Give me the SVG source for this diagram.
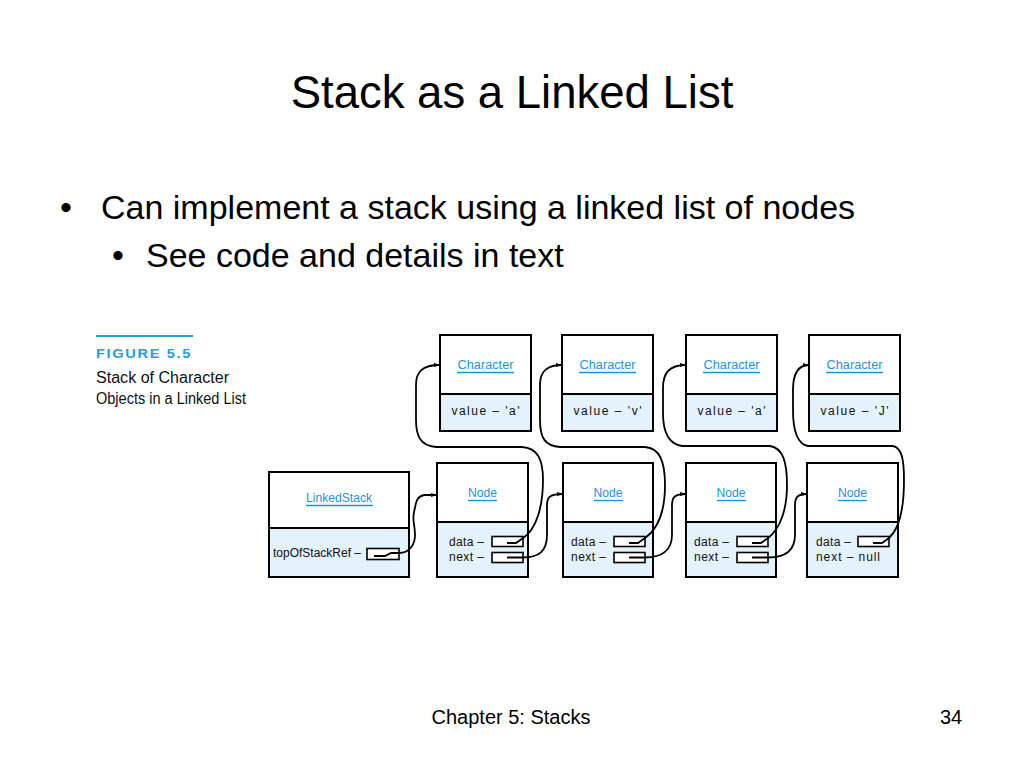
<svg xmlns="http://www.w3.org/2000/svg" width="1024" height="768" viewBox="0 0 1024 768">
<style>
.title{font-family:"Liberation Sans",Arial,sans-serif;font-size:45.5px;fill:#000}
.body{font-family:"Liberation Sans",Arial,sans-serif;font-size:34px;fill:#000}
.foot{font-family:"Liberation Sans",Arial,sans-serif;font-size:20px;fill:#000}
.cap{font-family:"Liberation Sans",Arial,sans-serif;font-size:16px;fill:#111}
.fig{font-family:"Liberation Sans",Arial,sans-serif;font-size:13.5px;font-weight:bold;fill:#2b9bd8;letter-spacing:1.5px}
.box{fill:#fff;stroke:#000;stroke-width:2}
.low{fill:#e4f2fb;stroke:#000;stroke-width:2}
.ptr{fill:#fff;stroke:#000;stroke-width:1.6}
.lbl{font-family:"Liberation Sans",Arial,sans-serif;font-size:12.5px;fill:#1e93d4;text-anchor:middle}
.ul{stroke:#1e93d4;stroke-width:1.4}
.t{font-family:"Liberation Sans",Arial,sans-serif;font-size:12px;fill:#111}
.con{fill:none;stroke:#000;stroke-width:1.8}
</style>
<defs>
<marker id="ah" markerWidth="7" markerHeight="6" refX="6" refY="3" orient="auto" markerUnits="userSpaceOnUse">
<path d="M0,1 L6,3 L0,5 z" fill="#000"/>
</marker>
</defs>
<rect width="1024" height="768" fill="#fff"/>

<text class="title" x="512" y="108" text-anchor="middle">Stack as a Linked List</text>
<text class="body" x="60" y="219">•</text>
<text class="body" x="101" y="219">Can implement a stack using a linked list of nodes</text>
<text class="body" x="112" y="267" font-size="28">•</text>
<text class="body" x="146" y="267">See code and details in text</text>
<text class="foot" x="511" y="724" text-anchor="middle">Chapter 5: Stacks</text>
<text class="foot" x="940" y="724">34</text>

<g id="caption">
<line x1="96" y1="336" x2="193" y2="336" stroke="#2b9bd8" stroke-width="2"/>
<text class="fig" x="96" y="358" textLength="96" lengthAdjust="spacingAndGlyphs">FIGURE 5.5</text>
<text class="cap" x="96" y="383" textLength="133" lengthAdjust="spacingAndGlyphs">Stack of Character</text>
<text class="cap" x="96" y="404" textLength="150" lengthAdjust="spacingAndGlyphs">Objects in a Linked List</text>
</g>

<g id="char1">
<rect class="box" x="440" y="335" width="91" height="59"/>
<rect class="low" x="440" y="394" width="91" height="37"/>
<text class="lbl" x="485.5" y="369" textLength="56" lengthAdjust="spacingAndGlyphs">Character</text><line class="ul" x1="457" y1="372.5" x2="514" y2="372.5"/>
<text class="t" x="485.5" y="415" text-anchor="middle" textLength="68" lengthAdjust="spacing">value – 'a'</text>
</g>
<g id="char2">
<rect class="box" x="562" y="335" width="91" height="59"/>
<rect class="low" x="562" y="394" width="91" height="37"/>
<text class="lbl" x="607.5" y="369" textLength="56" lengthAdjust="spacingAndGlyphs">Character</text><line class="ul" x1="579" y1="372.5" x2="636" y2="372.5"/>
<text class="t" x="607.5" y="415" text-anchor="middle" textLength="68" lengthAdjust="spacing">value – 'v'</text>
</g>
<g id="char3">
<rect class="box" x="686" y="335" width="91" height="59"/>
<rect class="low" x="686" y="394" width="91" height="37"/>
<text class="lbl" x="731.5" y="369" textLength="56" lengthAdjust="spacingAndGlyphs">Character</text><line class="ul" x1="703" y1="372.5" x2="760" y2="372.5"/>
<text class="t" x="731.5" y="415" text-anchor="middle" textLength="68" lengthAdjust="spacing">value – 'a'</text>
</g>
<g id="char4">
<rect class="box" x="809" y="335" width="91" height="59"/>
<rect class="low" x="809" y="394" width="91" height="37"/>
<text class="lbl" x="854.5" y="369" textLength="56" lengthAdjust="spacingAndGlyphs">Character</text><line class="ul" x1="826" y1="372.5" x2="883" y2="372.5"/>
<text class="t" x="854.5" y="415" text-anchor="middle" textLength="68" lengthAdjust="spacing">value – 'J'</text>
</g>

<g id="linkedstack">
<rect class="box" x="269" y="472" width="140" height="56"/>
<rect class="low" x="269" y="528" width="140" height="49"/>
<text class="lbl" x="339" y="502" textLength="66" lengthAdjust="spacingAndGlyphs">LinkedStack</text><line class="ul" x1="306" y1="505.5" x2="373" y2="505.5"/>
<text class="t" x="273" y="557" textLength="88" lengthAdjust="spacingAndGlyphs">topOfStackRef –</text>
<rect class="ptr" x="367" y="548.5" width="32" height="11"/>
</g>

<g id="node1">
<rect class="box" x="437" y="463" width="91" height="59"/>
<rect class="low" x="437" y="522" width="91" height="55"/>
<text class="lbl" x="482.5" y="497" textLength="29" lengthAdjust="spacingAndGlyphs">Node</text><line class="ul" x1="468" y1="500.5" x2="497" y2="500.5"/>
<text class="t" x="449" y="546" textLength="35" lengthAdjust="spacing">data –</text>
<text class="t" x="449" y="561" textLength="35" lengthAdjust="spacing">next –</text>
<rect class="ptr" x="492" y="536.5" width="31" height="10"/>
<rect class="ptr" x="492" y="552.5" width="31" height="10"/>
</g>
<g id="node2">
<rect class="box" x="563" y="463" width="90" height="59"/>
<rect class="low" x="563" y="522" width="90" height="55"/>
<text class="lbl" x="608" y="497" textLength="29" lengthAdjust="spacingAndGlyphs">Node</text><line class="ul" x1="594" y1="500.5" x2="623" y2="500.5"/>
<text class="t" x="571" y="546" textLength="35" lengthAdjust="spacing">data –</text>
<text class="t" x="571" y="561" textLength="35" lengthAdjust="spacing">next –</text>
<rect class="ptr" x="614" y="536.5" width="31" height="10"/>
<rect class="ptr" x="614" y="552.5" width="31" height="10"/>
</g>
<g id="node3">
<rect class="box" x="686" y="463" width="90" height="59"/>
<rect class="low" x="686" y="522" width="90" height="55"/>
<text class="lbl" x="731" y="497" textLength="29" lengthAdjust="spacingAndGlyphs">Node</text><line class="ul" x1="717" y1="500.5" x2="746" y2="500.5"/>
<text class="t" x="694" y="546" textLength="35" lengthAdjust="spacing">data –</text>
<text class="t" x="694" y="561" textLength="35" lengthAdjust="spacing">next –</text>
<rect class="ptr" x="737" y="536.5" width="31" height="10"/>
<rect class="ptr" x="737" y="552.5" width="31" height="10"/>
</g>
<g id="node4">
<rect class="box" x="807" y="463" width="91" height="59"/>
<rect class="low" x="807" y="522" width="91" height="55"/>
<text class="lbl" x="852.5" y="497" textLength="29" lengthAdjust="spacingAndGlyphs">Node</text><line class="ul" x1="838" y1="500.5" x2="867" y2="500.5"/>
<text class="t" x="816" y="546" textLength="35" lengthAdjust="spacing">data –</text>
<text class="t" x="816" y="561" textLength="64" lengthAdjust="spacing">next – null</text>
<rect class="ptr" x="858" y="536.5" width="31" height="10"/>
</g>

<g id="connectors" class="con">
<path class="con" marker-end="url(#ah)" d="M374,556 L385,556 L391,553 L399,553 C409,553 415,545 415,535 C415,525 412,520 414,512 C416,505 415,497 424,495 L437,495"/>
<path class="con" marker-end="url(#ah)" d="M507,543 L516,543 L523,538 C537,529 543,505 543,480 C543,460 538,448 522,447 L436,447 C420,446 416,435 416,420 L416,385 C416,372 422,365 440,365"/>
<path class="con" marker-end="url(#ah)" d="M507,557.5 L523,557.5 C538,557.5 547,552 547,535 L547,505 C547,497 550,494 563,494"/>
<path class="con" marker-end="url(#ah)" d="M629,543 L638,543 L645,538 C658,529 665,510 665,485 C665,462 660,448 645,447 L560,447 C545,446 540,438 540,420 L540,385 C540,372 546,365 562,365"/>
<path class="con" marker-end="url(#ah)" d="M629,557.5 L645,557.5 C662,557.5 672,550 672,535 L672,505 C672,497 675,494 686,494"/>
<path class="con" marker-end="url(#ah)" d="M752,543 L761,543 L768,538 C780,529 787,510 787,485 C787,462 783,448 770,446 L682,446 C668,444 663,432 663,413 L663,388 C663,373 669,365 686,365"/>
<path class="con" marker-end="url(#ah)" d="M752,557.5 L768,557.5 C786,557.5 795,550 795,535 L795,505 C795,497 798,494 807,494"/>
<path class="con" marker-end="url(#ah)" d="M873,543 L882,543 L889,538 C899,529 904,510 904,480 C904,460 902,448 893,446 L808,446 C797,444 793,430 793,410 L793,390 C793,374 798,365 809,365"/>
</g>
</svg>
